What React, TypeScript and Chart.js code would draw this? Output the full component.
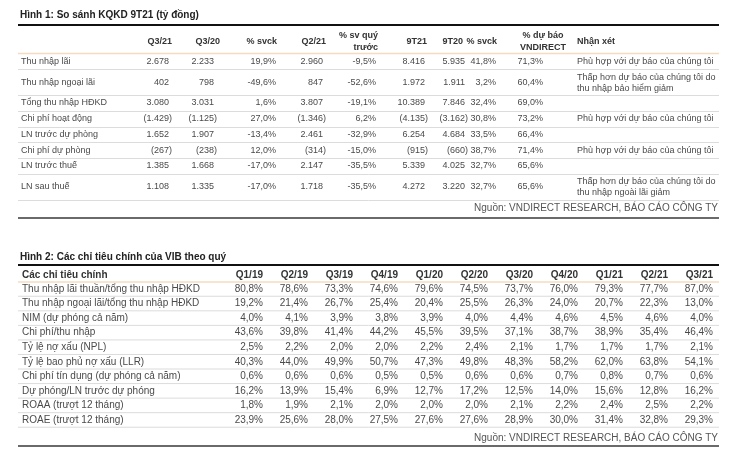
import React, { useEffect, useRef } from "react";
import { Chart, registerables } from "chart.js";

Chart.register(...registerables);

// ---------- Table 1 data ----------
const t1Title = "Hình 1: So sánh KQKD 9T21 (tỷ đồng)";
const t1Headers = ["Q3/21", "Q3/20", "% svck", "Q2/21", "% sv quý\ntrước", "9T21", "9T20", "% svck", "% dự báo\nVNDIRECT"];
const t1NoteHeader = "Nhận xét";
const t1Rows = [
  "Thu nhập lãi",
  "Thu nhập ngoại lãi",
  "Tổng thu nhập HĐKD",
  "Chi phí hoạt động",
  "LN trước dự phòng",
  "Chi phí dự phòng",
  "LN trước thuế",
  "LN sau thuế",
];
const q321 = [2678, 402, 3080, -1429, 1652, -267, 1385, 1108];
const q320 = [2233, 798, 3031, -1125, 1907, -238, 1668, 1335];
const svck1 = [19.9, -49.6, 1.6, 27.0, -13.4, 12.0, -17.0, -17.0];
const q221 = [2960, 847, 3807, -1346, 2461, -314, 2147, 1718];
const svqt = [-9.5, -52.6, -19.1, 6.2, -32.9, -15.0, -35.5, -35.5];
const t921 = [8416, 1972, 10389, -4135, 6254, -915, 5339, 4272];
const t920 = [5935, 1911, 7846, -3162, 4684, -660, 4025, 3220];
const svck2 = [41.8, 3.2, 32.4, 30.8, 33.5, 38.7, 32.7, 32.7];
const duBao = [71.3, 60.4, 69.0, 73.2, 66.4, 71.4, 65.6, 65.6];
const t1Notes = [
  "Phù hợp với dự báo của chúng tôi",
  "Thấp hơn dự báo của chúng tôi do\nthu nhập bảo hiểm giảm",
  "",
  "Phù hợp với dự báo của chúng tôi",
  "",
  "Phù hợp với dự báo của chúng tôi",
  "",
  "Thấp hơn dự báo của chúng tôi do\nthu nhập ngoài lãi giảm",
];
const sourceText = "Nguồn: VNDIRECT RESEARCH, BÁO CÁO CÔNG TY";

// ---------- Table 2 data ----------
const t2Title = "Hình 2: Các chỉ tiêu chính của VIB theo quý";
const t2Corner = "Các chỉ tiêu chính";
const t2Quarters = ["Q1/19", "Q2/19", "Q3/19", "Q4/19", "Q1/20", "Q2/20", "Q3/20", "Q4/20", "Q1/21", "Q2/21", "Q3/21"];
const t2Labels = [
  "Thu nhập lãi thuần/tổng thu nhập HĐKD",
  "Thu nhập ngoại lãi/tổng thu nhập HĐKD",
  "NIM (dự phóng cả năm)",
  "Chi phí/thu nhập",
  "Tỷ lệ nợ xấu (NPL)",
  "Tỷ lệ bao phủ nợ xấu (LLR)",
  "Chi phí tín dụng (dự phóng cả năm)",
  "Dự phóng/LN trước dự phóng",
  "ROAA (trượt 12 tháng)",
  "ROAE (trượt 12 tháng)",
];
const nimRatio = [80.8, 78.6, 73.3, 74.6, 79.6, 74.5, 73.7, 76.0, 79.3, 77.7, 87.0];
const nonInterest = [19.2, 21.4, 26.7, 25.4, 20.4, 25.5, 26.3, 24.0, 20.7, 22.3, 13.0];
const nim = [4.0, 4.1, 3.9, 3.8, 3.9, 4.0, 4.4, 4.6, 4.5, 4.6, 4.0];
const cir = [43.6, 39.8, 41.4, 44.2, 45.5, 39.5, 37.1, 38.7, 38.9, 35.4, 46.4];
const npl = [2.5, 2.2, 2.0, 2.0, 2.2, 2.4, 2.1, 1.7, 1.7, 1.7, 2.1];
const llr = [40.3, 44.0, 49.9, 50.7, 47.3, 49.8, 48.3, 58.2, 62.0, 63.8, 54.1];
const creditCost = [0.6, 0.6, 0.6, 0.5, 0.5, 0.6, 0.6, 0.7, 0.8, 0.7, 0.6];
const provisionRatio = [16.2, 13.9, 15.4, 6.9, 12.7, 17.2, 12.5, 14.0, 15.6, 12.8, 16.2];
const roaa = [1.8, 1.9, 2.1, 2.0, 2.0, 2.0, 2.1, 2.2, 2.4, 2.5, 2.2];
const roae = [23.9, 25.6, 28.0, 27.5, 27.6, 27.6, 28.9, 30.0, 31.4, 32.8, 29.3];

// ---------- layout (image coordinates) ----------
const L = {
  left: 18,
  right: 719,
  t1TitleY: 15,
  t1TopY: 25,
  t1HeadY: 42,
  t1HeadY2: [35.5, 47.5],
  t1OrangeY: 53.5,
  t1RowY: [62, 83, 103, 119, 135, 150.5, 166, 187],
  t1SepY: [69.5, 95.5, 111.5, 127.5, 142.5, 158.5, 174.5, 200.5],
  t1ColRight: [169, 214, 276, 323, 376, 425, 465, 496, 543],
  t1HeadRight: [172, 220, 277, 326, 378, 427, 463, 497, 543],
  t1NoteX: 577,
  t1SourceY: 208,
  t1BottomY: 218,
  t2TitleY: 257,
  t2TopY: 265,
  t2HeadY: 275,
  t2OrangeY: 282,
  t2Row0: 289,
  t2RowH: 14.55,
  t2Col0: 263,
  t2ColW: 45,
  t2SourceY: 438,
  t2BottomY: 446,
  labelX: 21,
};

const FONT = "'Liberation Sans', Arial, sans-serif";
const TXT = "#4a4a4a";
const HEAD = "#333333";

function fmtNum(v: number) {
  const s = Math.abs(v).toString().replace(/\B(?=(\d{3})+(?!\d))/g, ".");
  return v < 0 ? "(" + s + ")" : s;
}
function fmtPct(v: number) {
  return v.toFixed(1).replace(".", ",") + "%";
}

const tablePlugin = {
  id: "tablePlugin",
  afterDraw(chart: any) {
    const ctx = chart.ctx as CanvasRenderingContext2D;
    const xs = chart.scales.x;
    const ys = chart.scales.y;
    const X = (v: number) => xs.getPixelForValue(v);
    const Y = (v: number) => ys.getPixelForValue(v);

    const text = (s: string, x: number, y: number, align: CanvasTextAlign, font: string, color: string) => {
      ctx.font = font;
      ctx.fillStyle = color;
      ctx.textAlign = align;
      ctx.textBaseline = "middle";
      ctx.fillText(s, X(x), Y(y));
    };
    const hline = (y: number, w: number, color: string, x0 = L.left, x1 = L.right) => {
      ctx.beginPath();
      ctx.strokeStyle = color;
      ctx.lineWidth = w;
      ctx.moveTo(X(x0), Y(y));
      ctx.lineTo(X(x1), Y(y));
      ctx.stroke();
    };

    ctx.save();
    ctx.fillStyle = "#ffffff";
    ctx.fillRect(0, 0, chart.width, chart.height);

    // ===== Table 1 =====
    const f1 = "9px " + FONT;
    const f1b = "bold 9px " + FONT;
    text(t1Title, 20, L.t1TitleY, "left", "bold 10px " + FONT, "#222");
    hline(L.t1TopY, 2, "#111");
    t1Headers.forEach((h, i) => {
      const parts = h.split("\n");
      if (parts.length === 1) {
        text(h, L.t1HeadRight[i], L.t1HeadY, "right", f1b, HEAD);
      } else if (i === t1Headers.length - 1) {
        parts.forEach((p, k) => text(p, L.t1HeadRight[i], L.t1HeadY2[k], "center", f1b, HEAD));
      } else {
        parts.forEach((p, k) => text(p, L.t1HeadRight[i], L.t1HeadY2[k], "right", f1b, HEAD));
      }
    });
    text(t1NoteHeader, L.t1NoteX, L.t1HeadY, "left", f1b, HEAD);
    hline(L.t1OrangeY, 1.5, "#f4dcc0");
    const t1Cols = [
      q321.map(fmtNum),
      q320.map(fmtNum),
      svck1.map(fmtPct),
      q221.map(fmtNum),
      svqt.map(fmtPct),
      t921.map(fmtNum),
      t920.map(fmtNum),
      svck2.map(fmtPct),
      duBao.map(fmtPct),
    ];
    t1Rows.forEach((r, ri) => {
      const y = L.t1RowY[ri];
      text(r, L.labelX, y, "left", f1, TXT);
      t1Cols.forEach((col, ci) => {
        const s = col[ri];
        const isParen = s.endsWith(")");
        text(s, L.t1ColRight[ci] + (isParen ? 3 : 0), y, "right", f1, TXT);
      });
      const note = t1Notes[ri];
      if (note) {
        const lines = note.split("\n");
        if (lines.length === 1) text(note, L.t1NoteX, y, "left", f1, TXT);
        else lines.forEach((ln, k) => text(ln, L.t1NoteX, y - 5.5 + k * 11.5, "left", f1, TXT));
      }
      hline(L.t1SepY[ri], 1, "#dcdcdc");
    });
    text(sourceText, L.right - 1, L.t1SourceY, "right", "10px " + FONT, "#555");
    hline(L.t1BottomY, 2, "#6a6a6a");

    // ===== Table 2 =====
    const f2 = "10px " + FONT;
    const f2b = "bold 10px " + FONT;
    text(t2Title, 20, L.t2TitleY, "left", "bold 10px " + FONT, "#222");
    hline(L.t2TopY, 2, "#111");
    text(t2Corner, L.labelX + 1, L.t2HeadY, "left", f2b, HEAD);
    t2Quarters.forEach((q, i) => text(q, L.t2Col0 + i * L.t2ColW, L.t2HeadY, "right", f2b, HEAD));
    hline(L.t2OrangeY, 1.5, "#f4dcc0");
    const t2Data = [nimRatio, nonInterest, nim, cir, npl, llr, creditCost, provisionRatio, roaa, roae];
    t2Labels.forEach((lab, ri) => {
      const y = L.t2Row0 + ri * L.t2RowH;
      text(lab, L.labelX + 1, y, "left", f2, TXT);
      t2Data[ri].forEach((v, ci) => text(fmtPct(v), L.t2Col0 + ci * L.t2ColW, y, "right", f2, TXT));
      hline(y + L.t2RowH / 2, 1, "#dcdcdc");
    });
    text(sourceText, L.right - 1, L.t2SourceY, "right", "10px " + FONT, "#555");
    hline(L.t2BottomY, 2, "#6a6a6a");

    ctx.restore();
  },
};

export default function App() {
  const ref = useRef<HTMLCanvasElement | null>(null);
  useEffect(() => {
    if (!ref.current) return;
    const chart = new Chart(ref.current, {
      type: "scatter",
      data: { datasets: [] },
      options: {
        animation: false,
        responsive: false,
        devicePixelRatio: 1,
        layout: { padding: 0 },
        plugins: { legend: { display: false }, tooltip: { enabled: false }, title: { display: false } },
        scales: {
          x: { type: "linear", min: 8, max: 740, display: false },
          y: { type: "linear", min: 8, max: 456, reverse: true, display: false },
        },
        events: [],
      },
      plugins: [tablePlugin],
    } as any);
    return () => chart.destroy();
  }, []);
  return <canvas ref={ref} width={732} height={448} style={{ display: "block" }} />;
}
